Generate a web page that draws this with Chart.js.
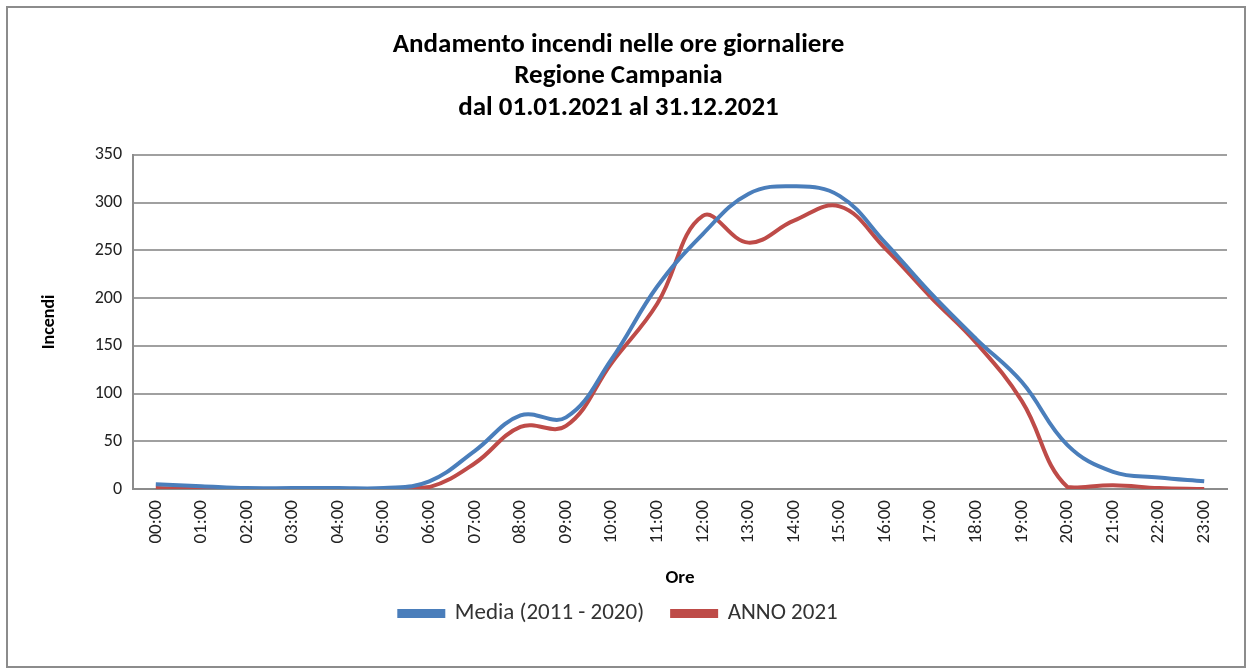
<!DOCTYPE html>
<html>
<head>
<meta charset="utf-8">
<script src="https://cdn.jsdelivr.net/npm/chart.js@4.4.1/dist/chart.umd.min.js"></script>
<style>
  html, body { margin: 0; padding: 0; background: #fff; }
  #wrap { position: relative; width: 1251px; height: 671px; }
  canvas { display: block; }
</style>
</head>
<body>
<div id="wrap"><canvas id="c" width="1251" height="671"></canvas></div>
<script>
const hours = ["00:00","01:00","02:00","03:00","04:00","05:00","06:00","07:00","08:00","09:00","10:00","11:00",
               "12:00","13:00","14:00","15:00","16:00","17:00","18:00","19:00","20:00","21:00","22:00","23:00"];
const media20112020 = [5, 3, 1, 1, 1, 1, 8, 40, 77, 75, 136, 212, 267, 309, 317, 307, 258, 205, 157, 112, 46, 18, 12, 8];
const anno2021      = [1, 0, 0, 0, 0, 0, 2, 27, 65, 66, 132, 194, 286, 258, 281, 296, 252, 201, 153, 92, 2, 4, 1, 0];
const titleLines = ["Andamento incendi nelle ore giornaliere", "Regione Campania", "dal 01.01.2021 al 31.12.2021"];
const seriesNames = ["Media (2011 - 2020)", "ANNO 2021"];
const yTitle = "Incendi";
const xTitle = "Ore";

const FONT = "Carlito, Calibri, Lato, 'Open Sans', sans-serif";

const frame = {
  id: 'frame',
  beforeDraw(chart) {
    const ctx = chart.ctx;
    ctx.save();
    ctx.fillStyle = '#ffffff';
    ctx.fillRect(0, 0, chart.width, chart.height);
    ctx.strokeStyle = '#8c8c8c';
    ctx.lineWidth = 2;
    ctx.strokeRect(7, 7, 1238, 660);
    ctx.restore();
  }
};

new Chart(document.getElementById('c'), {
  type: 'line',
  data: {
    labels: hours,
    datasets: [
      { label: seriesNames[0], data: media20112020, borderColor: '#4a7ebb', backgroundColor: '#4a7ebb',
        borderWidth: 4, pointRadius: 0, tension: 0.4, fill: false },
      { label: seriesNames[1], data: anno2021, borderColor: '#be4b48', backgroundColor: '#be4b48',
        borderWidth: 4, pointRadius: 0, tension: 0.4, fill: false }
    ]
  },
  options: {
    responsive: false,
    animation: false,
    layout: { padding: { left: 10, right: 24, top: 29, bottom: 36 } },
    plugins: {
      title: {
        display: true, text: titleLines, color: '#000',
        font: { family: FONT, size: 27, weight: 'bold', lineHeight: 1.17 },
        padding: { top: 0, bottom: 31 }
      },
      legend: {
        position: 'bottom',
        labels: { boxWidth: 44, boxHeight: 5, color: '#333', padding: 28,
                  font: { family: FONT, size: 23 } }
      },
      tooltip: { enabled: false }
    },
    scales: {
      x: {
        offset: true,
        grid: { display: false, drawTicks: false },
        border: { display: true, color: '#8c8c8c', width: 2 },
        ticks: { maxRotation: 90, minRotation: 90, padding: 11, color: '#222',
                 font: { family: FONT, size: 19 } },
        title: { display: true, text: xTitle, color: '#000', padding: { top: 0, bottom: -16 },
                 font: { family: FONT, size: 19, weight: 'bold' } },
        afterFit(scale) { scale.height = 85; }
      },
      y: {
        min: 0, max: 350,
        grid: { color: '#a0a0a0', lineWidth: 2, drawTicks: false },
        border: { display: true, color: '#8c8c8c', width: 2 },
        ticks: { stepSize: 50, padding: 11, color: '#222', font: { family: FONT, size: 18 } },
        title: { display: true, text: yTitle, color: '#000', padding: { top: 29, bottom: 0 },
                 font: { family: FONT, size: 18, weight: 'bold' } },
        afterFit(scale) { scale.width = 123; }
      }
    }
  },
  plugins: [frame]
});
</script>
</body>
</html>
